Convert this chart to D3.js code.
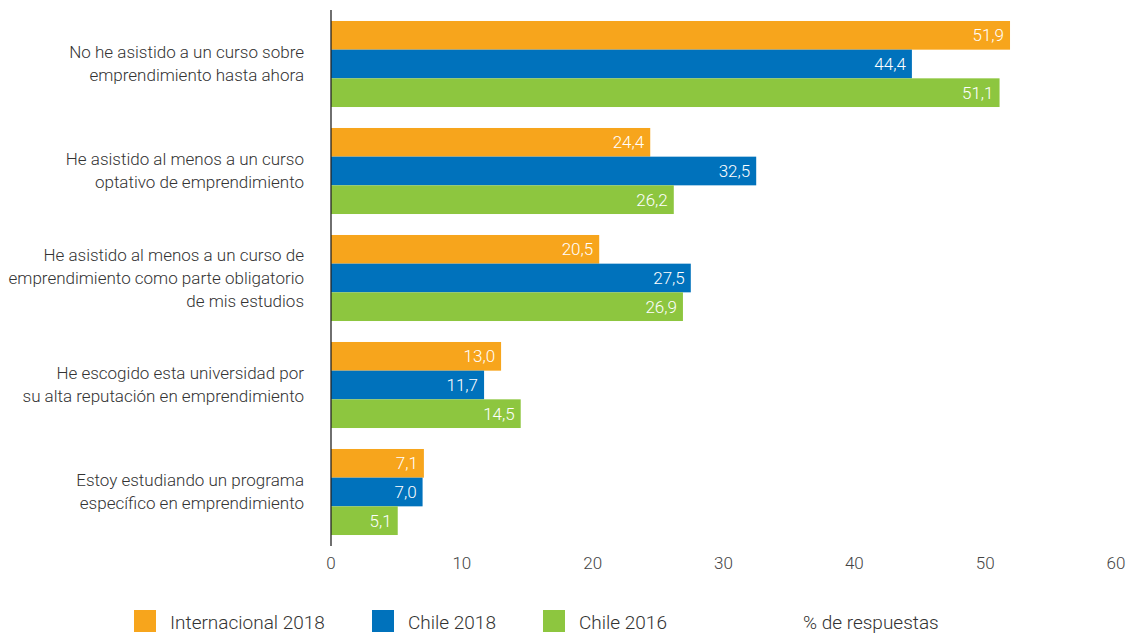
<!DOCTYPE html>
<html>
<head>
<meta charset="utf-8">
<script src="https://cdn.jsdelivr.net/npm/d3@7"></script>
<style>
  body { margin: 0; background: #fff; }
  svg text { font-family: Roboto, "Open Sans", sans-serif; }
</style>
</head>
<body>
<div class="chart"></div>
<script>
// categories (each item is the lines of its label)
const categories = [
  ["No he asistido a un curso sobre", "emprendimiento hasta ahora"],
  ["He asistido al menos a un curso", "optativo de emprendimiento"],
  ["He asistido al menos a un curso de", "emprendimiento como parte obligatorio", "de mis estudios"],
  ["He escogido esta universidad por", "su alta reputación en emprendimiento"],
  ["Estoy estudiando un programa", "específico en emprendimiento"]
];
const seriesNames = ["Internacional 2018", "Chile 2018", "Chile 2016"];
const seriesColors = ["#F7A51C", "#0072BC", "#8DC63F"];
const internacional2018 = [51.9, 24.4, 20.5, 13.0, 7.1];
const chile2018 = [44.4, 32.5, 27.5, 11.7, 7.0];
const chile2016 = [51.1, 26.2, 26.9, 14.5, 5.1];
const xTicks = [0, 10, 20, 30, 40, 50, 60];
const xLabel = "% de respuestas";

const series = [internacional2018, chile2018, chile2016];

const w = 1129, h = 635;
const x0 = 331;

const svg = d3.select(".chart").append("svg")
  .attr("width", w).attr("height", h);

const xScale = d3.scaleLinear().domain([0, 60]).range([x0, 1116]);
const yScale = d3.scaleBand()
  .domain(d3.range(categories.length))
  .range([10.5, 545.5])
  .paddingInner(0.196)
  .paddingOuter(0.098);
const ySub = d3.scaleBand()
  .domain(d3.range(series.length))
  .range([0, yScale.bandwidth()]);

const fmt = v => v.toFixed(1).replace(".", ",");

// bars
const groups = svg.selectAll("g.grp")
  .data(categories)
  .enter().append("g")
  .attr("class", "grp")
  .attr("transform", (d, i) => `translate(0,${yScale(i)})`);

groups.each(function(cat, i) {
  const g = d3.select(this);
  series.forEach((s, j) => {
    g.append("rect")
      .attr("x", xScale(0))
      .attr("y", ySub(j))
      .attr("width", xScale(s[i]) - xScale(0))
      .attr("height", ySub.bandwidth())
      .attr("fill", seriesColors[j]);
    g.append("text")
      .attr("x", xScale(s[i]) - 6)
      .attr("y", ySub(j) + ySub.bandwidth() / 2)
      .attr("dy", "0.35em")
      .attr("text-anchor", "end")
      .attr("fill", "#fff")
      .attr("font-size", 17)
      .attr("font-weight", 300)
      .text(fmt(s[i]));
  });

  // category label
  const lh = 23;
  const mid = yScale.bandwidth() / 2;
  const t = g.append("text")
    .attr("text-anchor", "end")
    .attr("fill", "#333")
    .attr("font-size", 17)
    .attr("font-weight", 300);
  cat.forEach((line, k) => {
    t.append("tspan")
      .attr("x", 304)
      .attr("y", mid + (k - (cat.length - 1) / 2) * lh)
      .attr("dy", "0.35em")
      .text(line);
  });
});

// vertical axis line
svg.append("line")
  .attr("x1", x0).attr("x2", x0)
  .attr("y1", 10).attr("y2", 546)
  .attr("stroke", "#222").attr("stroke-width", 1.3);

// x axis tick labels
svg.selectAll("text.tick")
  .data(xTicks)
  .enter().append("text")
  .attr("class", "tick")
  .attr("x", d => xScale(d))
  .attr("y", 563)
  .attr("dy", "0.35em")
  .attr("text-anchor", "middle")
  .attr("fill", "#444")
  .attr("font-size", 17)
  .attr("font-weight", 300)
  .text(d => d);

// legend
const legX = [134, 372, 543];
seriesNames.forEach((name, j) => {
  svg.append("rect")
    .attr("x", legX[j]).attr("y", 610)
    .attr("width", 22).attr("height", 22)
    .attr("fill", seriesColors[j]);
  svg.append("text")
    .attr("x", legX[j] + 36).attr("y", 629)
    .attr("fill", "#333")
    .attr("font-size", 19)
    .attr("font-weight", 300)
    .text(name);
});
svg.append("text")
  .attr("x", 803).attr("y", 629)
  .attr("fill", "#333")
  .attr("font-size", 19)
  .attr("font-weight", 300)
  .text(xLabel);
</script>
</body>
</html>
